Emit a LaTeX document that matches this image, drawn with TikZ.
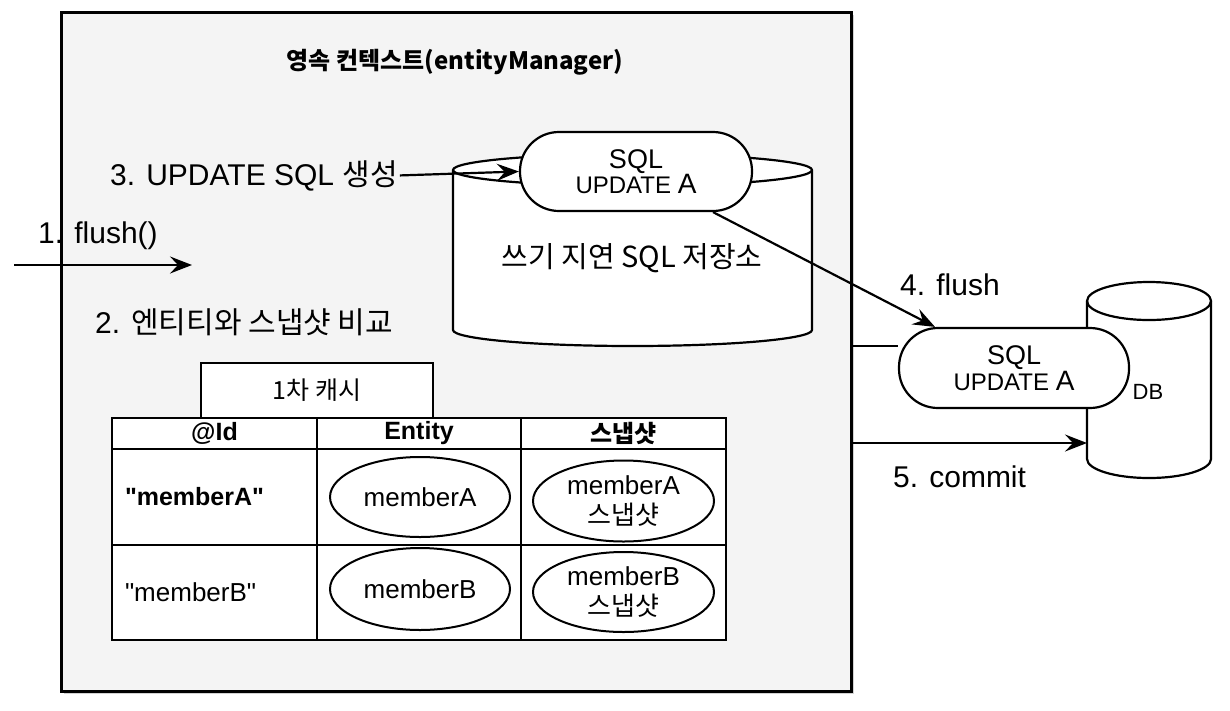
\documentclass[tikz,border=0pt]{standalone}
\usepackage{fontspec}
\setmainfont{Liberation Sans}[Ligatures=TeXOff]
\newfontfamily\kr{Noto Sans CJK KR}
\usetikzlibrary{arrows.meta,shapes.geometric,shadows}
\newcommand\fsz[2]{\fontsize{#1}{#2}\selectfont}
\pgfdeclarelayer{bg}
\pgfdeclarelayer{lines}
\pgfsetlayers{bg,lines,main}
\definecolor{boxgray}{HTML}{F4F4F4}
\begin{document}
\begin{tikzpicture}[x=1pt,y=-1pt,
  ln/.style={line width=2.2pt},
  arr/.style={ln,-{Stealth[length=22pt,width=17pt,inset=8pt]}},
  pill/.style={draw,ln,fill=white,rounded corners=39pt,minimum width=232pt,minimum height=79pt,inner sep=0pt,align=center},
  lbl/.style={inner sep=0pt,font=\fsz{30}{30}},
  cell/.style={draw,fill=white,inner sep=0pt,line width=2pt},
  ell/.style={draw,ellipse,fill=white,minimum width=180pt,minimum height=80pt,inner sep=0pt,align=center,line width=2pt,font=\fsz{26}{30}}]
\useasboundingbox (0,0) rectangle (1230,710);
\begin{pgfonlayer}{bg}
\fill[white] (0,0) rectangle (1230,710);
\node[draw,line width=3pt,fill=boxgray,minimum width=790pt,minimum height=679pt,
  drop shadow={opacity=0.35,shadow xshift=3pt,shadow yshift=-3pt}] (pc) at (456,351.5) {};
\end{pgfonlayer}
% title
\node[inner sep=0pt,font=\kr\bfseries\fsz{24}{24}] (title) at (455,62) {영속 컨텍스트(entityManager)};
% write-behind store cylinder
\filldraw[ln,fill=white] (453,170) -- (453,330) arc[start angle=180,end angle=360,x radius=179.5pt,y radius=16pt]
  -- (812,170) arc[start angle=0,end angle=180,x radius=179.5pt,y radius=16pt] -- cycle;
\draw[ln] (453,170) arc[start angle=180,end angle=360,x radius=179.5pt,y radius=16pt];
\node[inner sep=0pt,font=\kr\fsz{29}{29}] (store) at (632,258) {쓰기 지연 SQL 저장소};
\node[pill] (p1) at (636,171.5) {\fsz{27}{35}SQL\\\fsz{24}{35}UPDATE \fsz{28}{35}A};
% DB cylinder
\filldraw[ln,fill=white] (1087,301) -- (1087,459) arc[start angle=180,end angle=360,x radius=62pt,y radius=19pt]
  -- (1211,301) arc[start angle=0,end angle=180,x radius=62pt,y radius=19pt] -- cycle;
\draw[ln] (1087,301) arc[start angle=180,end angle=360,x radius=62pt,y radius=19pt];
\node[inner sep=0pt,font=\fsz{22}{22}] (dbl) at (1148,392) {DB};
\node[pill,minimum width=230pt,minimum height=80pt] (p2) at (1014,368) {\fsz{27}{35}SQL\\\fsz{24}{35}UPDATE \fsz{28}{35}A};
% labels
\node[lbl,anchor=base west] (t3) at (110,185) {3. UPDATE SQL {\kr 생성}};
\node[lbl,anchor=base west] (t1) at (38,243) {1. flush()};
\node[lbl,anchor=base west] (t2) at (95,333) {2. {\kr 엔티티와 스냅샷 비교}};
\node[lbl,anchor=base west] (t4) at (900,295) {4. flush};
\node[lbl,anchor=base west] (t5) at (893,487) {5. commit};
% cache table
\node[cell,minimum width=232pt,minimum height=55pt,font=\kr\fsz{25}{25}] (cache) at (317,390.5) {1차 캐시};
\node[cell,minimum width=205pt,minimum height=31pt,font=\bfseries\fsz{25}{25}] (h1) at (214.5,433.5) {@Id};
\node[cell,minimum width=204pt,minimum height=31pt,font=\bfseries\fsz{25}{25}] (h2) at (419,433.5) {Entity};
\node[cell,minimum width=205pt,minimum height=31pt,font=\kr\bfseries\fsz{24}{24}] (h3) at (623.5,433.5) {스냅샷};
\node[cell,minimum width=205pt,minimum height=96pt,text width=179pt,inner xsep=13pt,align=left,font=\bfseries\fsz{25}{25}] (a1) at (214.5,497) {"memberA"};
\node[cell,minimum width=204pt,minimum height=96pt] (a2) at (419,497) {};
\node[cell,minimum width=205pt,minimum height=96pt] (a3) at (623.5,497) {};
\node[cell,minimum width=205pt,minimum height=95pt,text width=179pt,inner xsep=13pt,align=left,font=\fsz{26}{26}] (b1) at (214.5,592.5) {"memberB"};
\node[cell,minimum width=204pt,minimum height=95pt] (b2) at (419,592.5) {};
\node[cell,minimum width=205pt,minimum height=95pt] (b3) at (623.5,592.5) {};
\node[ell] (ea) at (420,497) {memberA};
\node[ell,minimum height=82pt] (eb) at (420,589) {memberB};
\node[ell,minimum width=181pt,minimum height=81pt] (sa) at (623.5,501) {memberA\\{\kr 스냅샷}};
\node[ell,minimum width=181pt,minimum height=80pt] (sb) at (623.5,592) {memberB\\{\kr 스냅샷}};
% connectors
\coordinate (f0) at (14,265);
\coordinate (f1) at (192,265);
\coordinate (c4) at (851,346);
\coordinate (c5) at (851,443);
\coordinate (dbL) at (1087,443);
\draw[arr] (f0) -- (f1);
\draw[arr] ([xshift=2pt]t3.east) -- (p1.west);
\draw[arr] ([xshift=77pt]p1.south) -- ([xshift=-79pt]p2.north);
\begin{pgfonlayer}{lines}
\draw[ln] (c4) -- (c4 -| p2.west);
\end{pgfonlayer}
\draw[arr] (c5) -- (dbL);
\end{tikzpicture}
\end{document}
